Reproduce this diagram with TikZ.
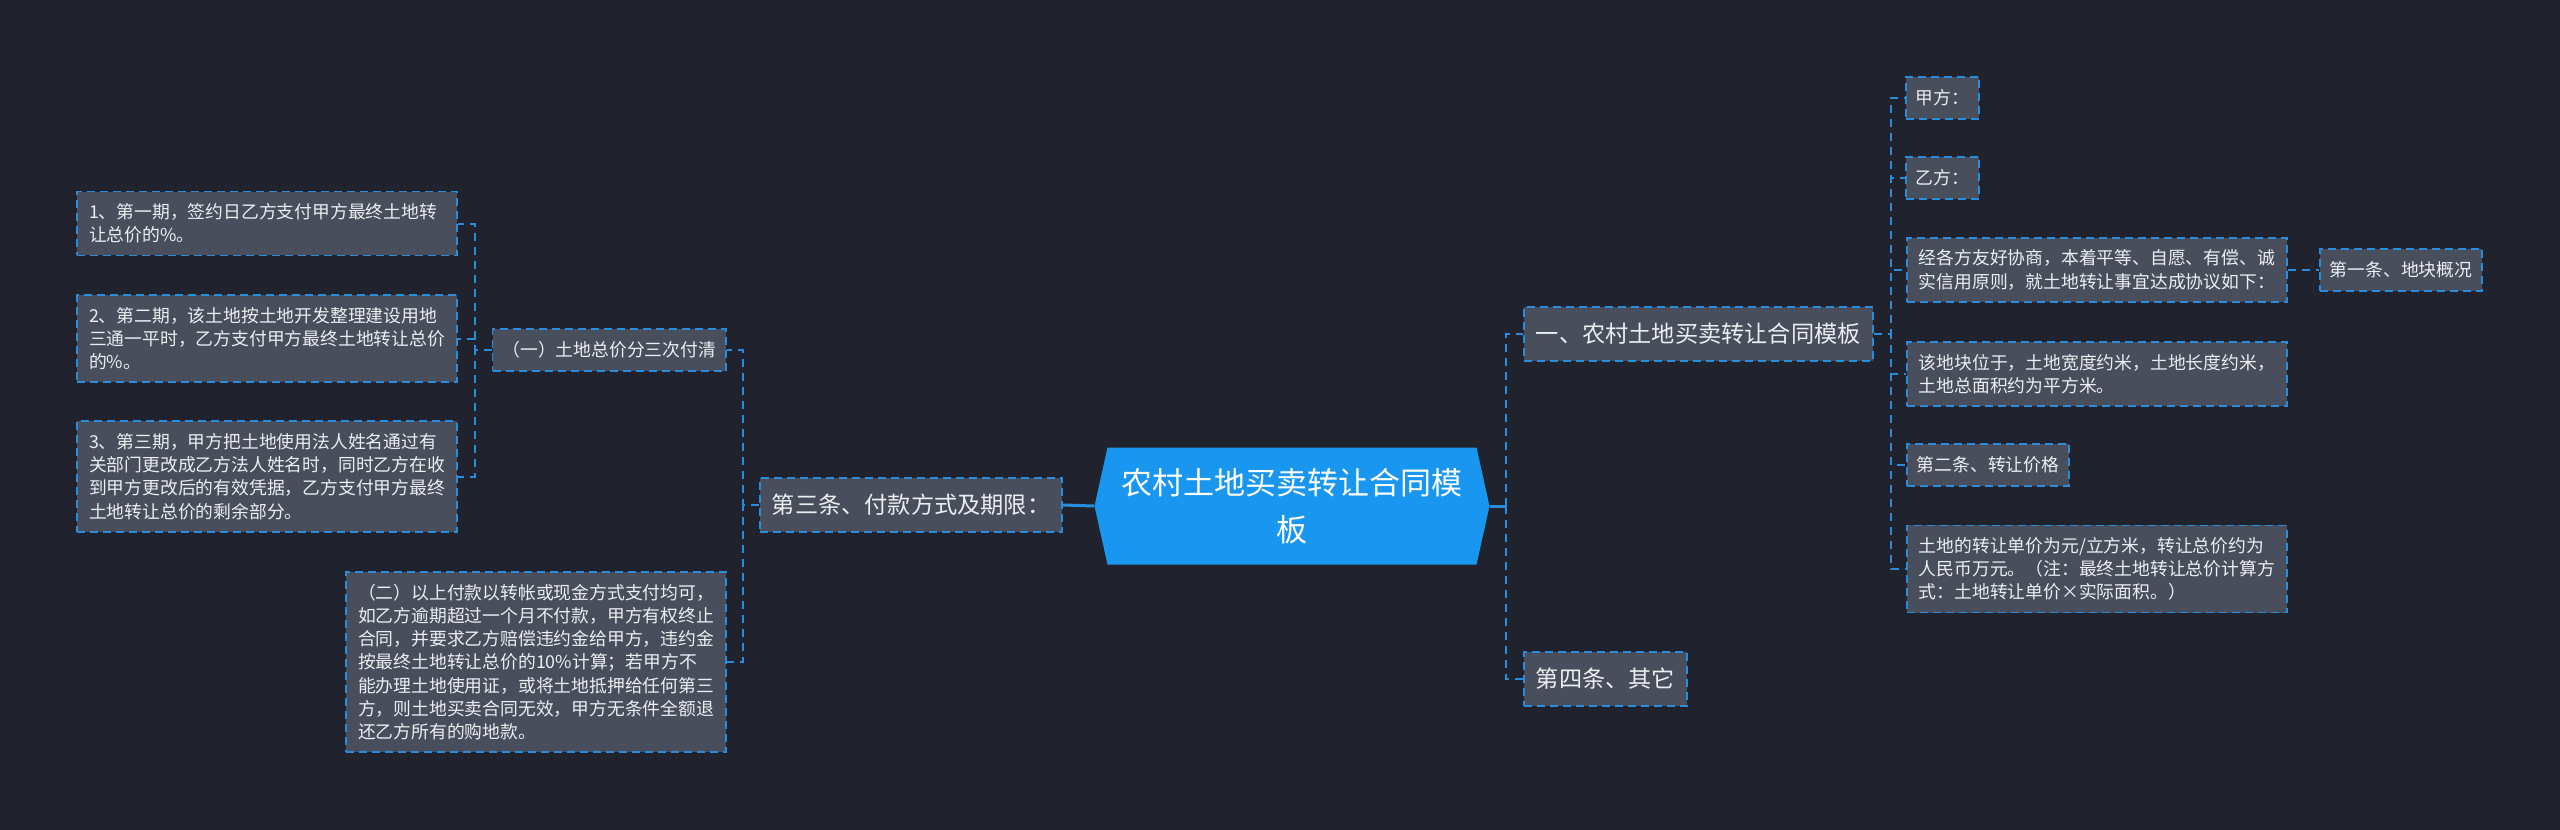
\documentclass[tikz,border=0pt]{standalone}
\usepackage{fontspec}
\setmainfont{Noto Sans CJK SC}
\usetikzlibrary{shapes.symbols}
\definecolor{bgdark}{RGB}{32,35,46}
\definecolor{boxgray}{RGB}{72,78,92}
\definecolor{lineblue}{RGB}{41,141,222}
\definecolor{rootblue}{RGB}{25,150,240}
\definecolor{txtwhite}{RGB}{236,238,242}

\begin{document}
\begin{tikzpicture}[x=0.5pt, y=-0.5pt,
  box/.style={draw=lineblue, fill=boxgray, line width=0.9pt, dash pattern=on 4pt off 2.5pt,
    text=txtwhite, rectangle, inner xsep=5pt, inner ysep=5pt, align=left,
    font=\fontsize{8.9pt}{11.6pt}\selectfont},
  textbox/.style={box, inner xsep=6pt, inner ysep=6pt, text width=178pt},
  smallbox/.style={box, minimum height=21pt},
  midbox/.style={box, inner xsep=6pt, minimum height=27pt, font=\fontsize{11.6pt}{14pt}\selectfont},
  link/.style={draw=lineblue, line width=1pt, dash pattern=on 4pt off 3pt},
  rootlink/.style={draw=lineblue, line width=1.5pt}]

\fill[bgdark] (0,0) rectangle (2560,830);
\useasboundingbox (0,0) rectangle (2560,830);

% centre
\node[signal, signal to=west and east, signal pointer angle=155, fill=rootblue, text=white,
  minimum width=197.5pt, minimum height=58.5pt, align=center,
  font=\fontsize{15.5pt}{23.5pt}\selectfont] (t0) at (1292,506) {农村土地买卖转让合同模\\板};

% left side
\node[midbox, anchor=west] (l1) at (759,505) {第三条、付款方式及期限：};
\node[smallbox, anchor=east] (l2) at (727,350) {（一）土地总价分三次付清};
\node[textbox, anchor=east] (l3) at (727,662) {（二）以上付款以转帐或现金方式支付均可，\\如乙方逾期超过一个月不付款，甲方有权终止\\合同，并要求乙方赔偿违约金给甲方，违约金\\按最终土地转让总价的10\%计算；若甲方不\\能办理土地使用证，或将土地抵押给任何第三\\方，则土地买卖合同无效，甲方无条件全额退\\还乙方所有的购地款。};
\node[textbox, anchor=east] (s1) at (458,223.5) {1、第一期，签约日乙方支付甲方最终土地转\\让总价的\%。};
\node[textbox, anchor=east] (s2) at (458,338.5) {2、第二期，该土地按土地开发整理建设用地\\三通一平时，乙方支付甲方最终土地转让总价\\的\%。};
\node[textbox, anchor=east] (s3) at (458,476.5) {3、第三期，甲方把土地使用法人姓名通过有\\关部门更改成乙方法人姓名时，同时乙方在收\\到甲方更改后的有效凭据，乙方支付甲方最终\\土地转让总价的剩余部分。};

% right side
\node[midbox, anchor=west] (r1) at (1523,334) {一、农村土地买卖转让合同模板};
\node[midbox, anchor=west] (r2) at (1523,679) {第四条、其它};
\node[smallbox, anchor=west] (p1) at (1905,98) {甲方：};
\node[smallbox, anchor=west] (p2) at (1905,178) {乙方：};
\node[textbox, anchor=west] (p3) at (1906,270) {经各方友好协商，本着平等、自愿、有偿、诚\\实信用原则，就土地转让事宜达成协议如下：};
\node[smallbox, anchor=west] (q1) at (2319,270) {第一条、地块概况};
\node[textbox, anchor=west] (p4) at (1906,374) {该地块位于，土地宽度约米，土地长度约米，\\土地总面积约为平方米。};
\node[smallbox, anchor=west] (p5) at (1906,465) {第二条、转让价格};
\node[textbox, anchor=west] (p6) at (1906,569) {土地的转让单价为元/立方米，转让总价约为\\人民币万元。（注：最终土地转让总价计算方\\式：土地转让单价×实际面积。）};

\path (l1.west) ++(-16,0) coordinate (lb);
\path (l2.west) ++(-17,0) coordinate (sb);
\path (t0.east) ++(16,0) coordinate (rb);
\path (r1.east) ++(17,0) coordinate (pb);

\draw[rootlink] (t0.west) -- (l1.east);
\draw[link] (l1.west) -- (lb) |- (l2.east);
\draw[link] (l1.west) -- (lb) |- (l3.east);
\draw[link] (l2.west) -- (sb) |- (s1.east);
\draw[link] (l2.west) -- (sb) |- (s2.east);
\draw[link] (l2.west) -- (sb) |- (s3.east);

\draw[rootlink] (t0.east) -- (rb);
\draw[link] (rb) |- (r1.west);
\draw[link] (rb) |- (r2.west);
\draw[link] (r1.east) -- (pb) |- (p1.west);
\draw[link] (r1.east) -- (pb) |- (p2.west);
\draw[link] (r1.east) -- (pb) |- (p3.west);
\draw[link] (r1.east) -- (pb) |- (p4.west);
\draw[link] (r1.east) -- (pb) |- (p5.west);
\draw[link] (r1.east) -- (pb) |- (p6.west);
\draw[link] (p3.east) -- (q1.west);

\end{tikzpicture}
\end{document}
